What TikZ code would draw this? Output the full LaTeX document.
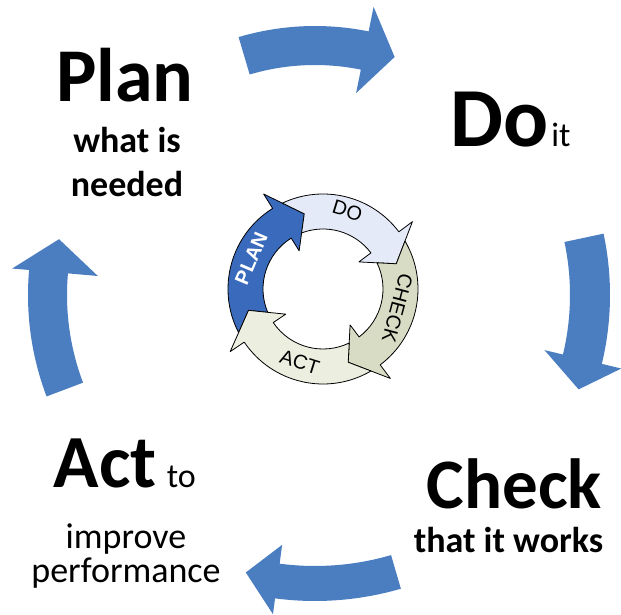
\documentclass[tikz,border=0pt]{standalone}
\usepackage{fontspec}
\setmainfont{Carlito}
\newfontfamily\ringfont{Liberation Sans}
\usepackage{xcolor}
\usetikzlibrary{positioning}

\definecolor{bigblue}{RGB}{74,126,193}
\definecolor{planblue}{RGB}{58,106,188}
\definecolor{dofill}{RGB}{228,234,248}
\definecolor{checkfill}{RGB}{216,220,196}
\definecolor{actfill}{RGB}{236,238,224}

% big curved arrow: rin, rout, tail, base, tip angle, tip r, barb in, barb out
\newcommand{\bigarrow}[8]{%
\fill[bigblue] (#3:#2) arc[start angle=#3, end angle=#4, radius=#2] -- (#4:#8) -- (#5:#6)
  -- (#4:#7) -- (#4:#1) arc[start angle=#4, end angle=#3, radius=#1] -- cycle;}

% ring arrow: style, previous head base, head base
\newcommand{\ringarrow}[3]{%
\path[#1] ({#2-6.67}:95) arc[start angle={#2-6.67}, end angle=#3, radius=95] -- (#3:112)
  -- ({#3-18}:77.5) -- (#3:45) -- (#3:60) arc[start angle=#3, end angle={#2-11.12}, radius=60]
  -- ({#2-18}:77.5) -- cycle;}

\begin{document}
\begin{tikzpicture}[x=1pt,y=1pt,
  bigword/.style={inner sep=0, anchor=base, font=\fontsize{#1}{#1}\selectfont\bfseries},
  boldline/.style={inner sep=0, anchor=base, align=center, font=\fontsize{36}{44}\selectfont\bfseries},
  plainline/.style={inner sep=0, anchor=base, align=center, font=\fontsize{#1}{34}\selectfont},
  ringlabel/.style={inner sep=0, font=\ringfont\fontsize{20}{20}\selectfont},
  ringbold/.style={inner sep=0, white, font=\ringfont\bfseries\fontsize{20}{20}\selectfont},
  ringpart/.style={draw=black, line width=0.8pt, line join=round}]

\path[use as bounding box, fill=white] (0,0) rectangle (621,614);

\begin{scope}[shift={(315,319)}]
\bigarrow{230}{269}{106.5}{78.5}{71.5}{251}{206}{294}
\bigarrow{255}{295}{12}{-13.5}{-19.7}{280}{236}{315}
\bigarrow{271}{306}{-73.7}{-97.5}{-104}{286}{252}{322}
\bigarrow{248}{287}{200.7}{175}{167.7}{262}{218}{304}
\end{scope}

\begin{scope}[shift={(323,325)}]
\ringarrow{ringpart, fill=planblue}{214}{122}
\ringarrow{ringpart, fill=dofill}{122}{37}
\ringarrow{ringpart, fill=checkfill}{37}{-53}
\ringarrow{ringpart, fill=actfill}{-53}{-146}

\node[ringbold, rotate=67] (planlbl) at (157:78) {PLAN};
\node[ringlabel, rotate=-17] (dolbl) at (72.6:82) {DO};
\node[ringlabel, rotate=-105] (checklbl) at (-14.7:77) {CHECK};
\node[ringlabel, rotate=-17.5] (actlbl) at (-107.5:77) {ACT};
\end{scope}

\node[bigword=76] (plan) at (125,512) {Plan};
\node[boldline] (plannote) at (127,417) {what is\\needed};

\node[bigword=84] (do) at (500,467) {Do};
\node[plainline=34, anchor=base west] (donote) at ([xshift=2pt]do.base east) {it};

\node[bigword=71] (check) at (514.5,106) {Check};
\node[boldline] (checknote) at (508.5,62) {that it works};

\node[bigword=75] (act) at (105,127) {Act};
\node[plainline=34, anchor=base west] (actto) at ([xshift=10pt]act.base east) {to};
\node[plainline=36] (actnote) at (126,32) {improve\\performance};

\end{tikzpicture}
\end{document}
